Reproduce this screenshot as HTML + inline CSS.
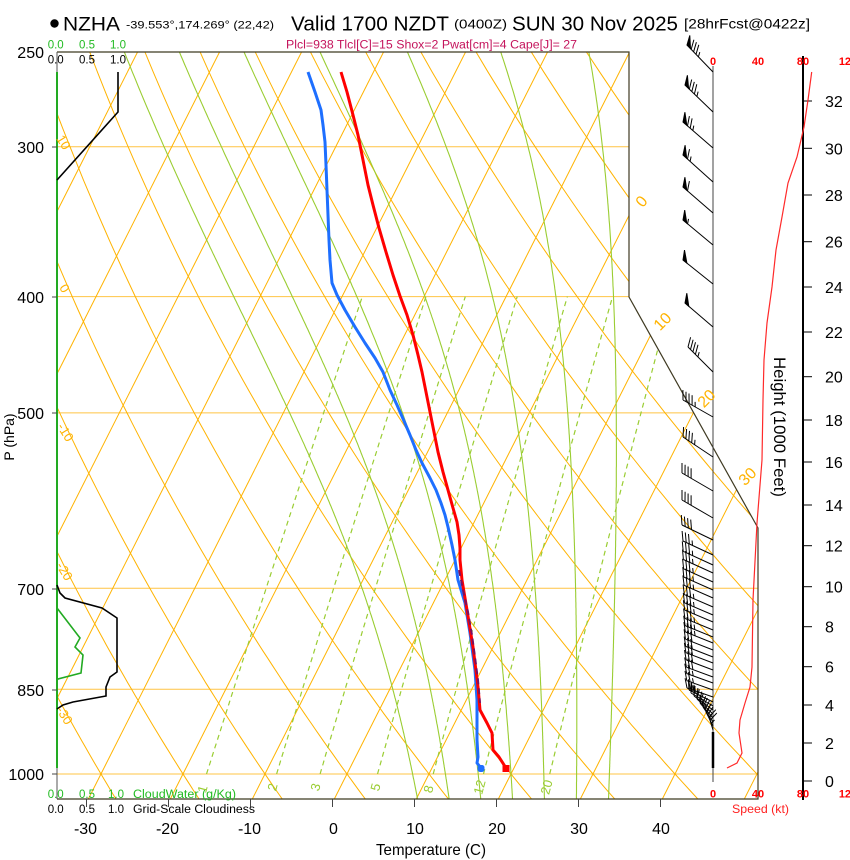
<!DOCTYPE html>
<html><head><meta charset="utf-8"><style>
html,body{margin:0;padding:0;background:#fff;width:850px;height:860px;overflow:hidden}
svg{position:absolute;left:0;top:0}
text{font-family:"Liberation Sans",Arial,sans-serif}
</style></head><body>
<svg id="s" width="850" height="860" viewBox="0 0 850 860" xmlns="http://www.w3.org/2000/svg">
<defs><clipPath id="fc"><polygon points="57,52 629,52 629,297 758,528 758,799 57,799"/></clipPath></defs>
<rect width="850" height="860" fill="#fff"/>
<g id="grid" clip-path="url(#fc)"></g>

<!-- frame -->
<polyline points="57,52 629,52 629,297 758,528 758,799 57,799" fill="none" stroke="#3f3a22" stroke-width="1.2"/>
<line x1="57" y1="52" x2="57" y2="799" stroke="#555" stroke-width="1"/>
<line x1="57" y1="72" x2="57" y2="768" stroke="#22aa22" stroke-width="2"/>

<!-- bottom ticks -->
<g stroke="#444" stroke-width="1">
<line x1="86.5" y1="799" x2="86.5" y2="807"/><line x1="168.5" y1="799" x2="168.5" y2="807"/>
<line x1="250.5" y1="799" x2="250.5" y2="807"/><line x1="332.5" y1="799" x2="332.5" y2="807"/>
<line x1="414.5" y1="799" x2="414.5" y2="807"/><line x1="496.5" y1="799" x2="496.5" y2="807"/>
<line x1="578.5" y1="799" x2="578.5" y2="807"/><line x1="660.5" y1="799" x2="660.5" y2="807"/>
<line x1="52" y1="147" x2="57" y2="147"/><line x1="52" y1="297" x2="57" y2="297"/>
<line x1="52" y1="413" x2="57" y2="413"/><line x1="52" y1="589" x2="57" y2="589"/>
<line x1="52" y1="690" x2="57" y2="690"/><line x1="52" y1="774" x2="57" y2="774"/>
</g>

<!-- cloud lines -->
<polyline points="118,72 118,112 57,180" fill="none" stroke="#000" stroke-width="1.6"/>
<polyline points="57,585 60,593 65,598 102,608 117,618 117,672 110,677 106,687 106,696 73,702 63,705 57,709" fill="none" stroke="#000" stroke-width="1.6"/>
<polyline points="57,608 80,638 75,647 83,655 81,673 58,679 57,680" fill="none" stroke="#22aa22" stroke-width="1.6"/>

<!-- profiles -->
<polyline points="308,72 315,92 321,110 323,125 325,142 326,165 327,190 328,215 329,240 330,260 332,283 337,295 345,310 355,327 365,343 375,358 383,372 390,390 397,405 404,421 410,435 416,450 422,463 430,478 436,490 441,503 445,515 448,527 452,545 455,560 458,580 465,603 470,633 475,670 477,700 477,720 477,740 478,757 477,763 481,768" fill="none" stroke="#1e6fff" stroke-width="3" stroke-linejoin="round"/>
<polyline points="341,72 347,92 353,115 358,135 363,160 368,185 373,205 379,228 386,252 393,275 400,296 407,315 413,335 418,355 422,372 426,392 430,412 434,432 438,452 443,472 448,490 453,508 457,522 459,535 460,548 460,560 462,580 467,610 473,647 478,687 480,710 487,723 492,733 493,750 499,757 506,768" fill="none" stroke="#ff0000" stroke-width="3" stroke-linejoin="round"/>
<polyline points="459,570 463,590 468,612 472,635 475,657 478,680 480,703" fill="none" stroke="#7a1060" stroke-width="2" stroke-dasharray="6,4"/>
<rect x="477.5" y="765" width="7" height="7" rx="2.5" fill="#1e6fff"/>
<rect x="502.5" y="765" width="7" height="7" fill="#ff0000"/>

<!-- right panel axes -->
<line x1="713" y1="66" x2="713" y2="782" stroke="#444" stroke-width="1"/>
<line x1="713" y1="732" x2="713" y2="768" stroke="#000" stroke-width="2.5"/>
<line x1="803" y1="56" x2="803" y2="800" stroke="#000" stroke-width="2"/>
<g stroke="#000" stroke-width="1">
<line x1="803" y1="781" x2="812" y2="781"/><line x1="803" y1="743" x2="812" y2="743"/>
<line x1="803" y1="705" x2="812" y2="705"/><line x1="803" y1="666.7" x2="812" y2="666.7"/>
<line x1="803" y1="626.7" x2="812" y2="626.7"/><line x1="803" y1="586.7" x2="812" y2="586.7"/>
<line x1="803" y1="545.7" x2="812" y2="545.7"/><line x1="803" y1="505" x2="812" y2="505"/>
<line x1="803" y1="462" x2="812" y2="462"/><line x1="803" y1="420" x2="812" y2="420"/>
<line x1="803" y1="376.7" x2="812" y2="376.7"/><line x1="803" y1="332" x2="812" y2="332"/>
<line x1="803" y1="287" x2="812" y2="287"/><line x1="803" y1="241.7" x2="812" y2="241.7"/>
<line x1="803" y1="195" x2="812" y2="195"/><line x1="803" y1="148.3" x2="812" y2="148.3"/>
<line x1="803" y1="101" x2="812" y2="101"/>
</g>
<polyline points="811.7,72 808,100 804,127 797,157 788,183 782,217 776,250 772,287 767,323 764,360 763,400 762,460 757,523 753,600 752,667 750,687 745,703 740,720 739,733 742,753 737,763 727,768" fill="none" stroke="#ff2a2a" stroke-width="1.2"/>
<g id="barbs" stroke="#000" stroke-width="1" fill="#000"></g>

<!-- Title -->
<circle cx="54.5" cy="23.5" r="4.2" fill="#000"/>
<text x="63" y="30.5" font-size="19.5" textLength="57" lengthAdjust="spacingAndGlyphs">NZHA</text>
<text x="126" y="28.5" font-size="11" textLength="148" lengthAdjust="spacingAndGlyphs">-39.553°,174.269° (22,42)</text>
<text x="291" y="30.7" font-size="20" textLength="158" lengthAdjust="spacingAndGlyphs">Valid 1700 NZDT</text>
<text x="454" y="28.5" font-size="12.5" textLength="53" lengthAdjust="spacingAndGlyphs">(0400Z)</text>
<text x="512" y="30.7" font-size="20" textLength="166" lengthAdjust="spacingAndGlyphs">SUN 30 Nov 2025</text>
<text x="684" y="28.5" font-size="14" textLength="126" lengthAdjust="spacingAndGlyphs">[28hrFcst@0422z]</text>
<text x="286" y="48.3" font-size="11.5" fill="#c4145c" textLength="291" lengthAdjust="spacingAndGlyphs">Plcl=938 Tlcl[C]=15 Shox=2 Pwat[cm]=4 Cape[J]= 27</text>

<!-- cloud scale labels -->
<g font-size="11.5" fill="#22bb22">
<text x="47.7" y="48.3">0.0</text><text x="79" y="48.3">0.5</text><text x="110" y="48.3">1.0</text>
<text x="47.7" y="798">0.0</text><text x="79" y="798">0.5</text><text x="108" y="798">1.0</text>
<text x="133" y="798" textLength="103" lengthAdjust="spacingAndGlyphs">CloudWater (g/Kg)</text>
</g>
<g font-size="11.5" fill="#000">
<text x="47.7" y="63.3">0.0</text><text x="79" y="63.3">0.5</text><text x="110" y="63.3">1.0</text>
<text x="47.7" y="813">0.0</text><text x="79" y="813">0.5</text><text x="108" y="813">1.0</text>
<text x="133" y="813" textLength="122" lengthAdjust="spacingAndGlyphs">Grid-Scale Cloudiness</text>
</g>

<!-- pressure labels -->
<g font-size="16" text-anchor="end" fill="#000">
<text x="44" y="58">250</text><text x="44" y="153">300</text><text x="44" y="303">400</text>
<text x="44" y="419">500</text><text x="44" y="595">700</text><text x="44" y="696">850</text>
<text x="44" y="780">1000</text>
</g>
<text transform="translate(14,437) rotate(-90)" font-size="14" text-anchor="middle">P (hPa)</text>

<!-- temperature labels -->
<g font-size="16" text-anchor="middle" fill="#000">
<text x="85.5" y="834">-30</text><text x="167.5" y="834">-20</text><text x="249.5" y="834">-10</text>
<text x="333.5" y="834">0</text><text x="415" y="834">10</text><text x="497" y="834">20</text>
<text x="579" y="834">30</text><text x="661" y="834">40</text>
</g>
<text x="376" y="855" font-size="16" textLength="110" lengthAdjust="spacingAndGlyphs">Temperature (C)</text>

<!-- speed labels -->
<g font-size="11" font-weight="bold" fill="#ff0000" text-anchor="middle">
<text x="713" y="65">0</text><text x="758" y="65">40</text><text x="803" y="65">80</text><text x="848" y="65">120</text>
<text x="713" y="797.5">0</text><text x="758" y="797.5">40</text><text x="803" y="797.5">80</text><text x="848" y="797.5">120</text>
</g>
<text x="732" y="813" font-size="12" fill="#ff2020" textLength="57" lengthAdjust="spacingAndGlyphs">Speed (kt)</text>

<!-- height labels -->
<g font-size="16" fill="#000">
<text x="825" y="787">0</text><text x="825" y="749">2</text><text x="825" y="711">4</text>
<text x="825" y="672.7">6</text><text x="825" y="632.7">8</text><text x="825" y="592.7">10</text>
<text x="825" y="551.7">12</text><text x="825" y="511">14</text><text x="825" y="468">16</text>
<text x="825" y="426">18</text><text x="825" y="382.7">20</text><text x="825" y="338">22</text>
<text x="825" y="293">24</text><text x="825" y="247.7">26</text><text x="825" y="201">28</text>
<text x="825" y="154.3">30</text><text x="825" y="107">32</text>
</g>
<text transform="translate(774,427) rotate(90)" font-size="16.5" text-anchor="middle" textLength="140" lengthAdjust="spacingAndGlyphs">Height (1000 Feet)</text>

<!-- isotherm labels (right) -->
<g font-size="16" fill="#ffb300" text-anchor="middle">
<text transform="translate(641,201) rotate(-50)" y="6">0</text>
<text transform="translate(662,321) rotate(-45)" y="6">10</text>
<text transform="translate(706,398) rotate(-45)" y="6">20</text>
<text transform="translate(747,476) rotate(-45)" y="6">30</text>
</g>
<!-- dry adiabat labels (left) -->
<g font-size="13" fill="#ffb300" text-anchor="middle">
<text transform="translate(64,142) rotate(58)" y="5">10</text>
<text transform="translate(65,288) rotate(58)" y="5">0</text>
<text transform="translate(66,432) rotate(58)" y="5">-10</text>
<text transform="translate(65,571) rotate(58)" y="5">-20</text>
<text transform="translate(65,715) rotate(58)" y="5">-30</text>
</g>
<!-- mixing ratio labels -->
<g font-size="13" fill="#9acd32" text-anchor="middle">
<text transform="translate(202,789) rotate(-75)" y="5">1</text>
<text transform="translate(272,787) rotate(-75)" y="5">2</text>
<text transform="translate(315,787) rotate(-75)" y="5">3</text>
<text transform="translate(375,787) rotate(-75)" y="5">5</text>
<text transform="translate(428,789) rotate(-75)" y="5">8</text>
<text transform="translate(479,787) rotate(-75)" y="5">12</text>
<text transform="translate(546,787) rotate(-75)" y="5">20</text>
</g>
</svg>
<script>
(function(){
var NS="http://www.w3.org/2000/svg";
function yp(p){return 774-521*Math.log(1000/p);}
function xT(T,y){return 347+8.2*T+0.505*(774-y);}
function mk(par,tag,at){var e=document.createElementNS(NS,tag);for(var k in at)e.setAttribute(k,at[k]);par.appendChild(e);return e;}
function pl(par,pts,st,w,dash){var a={points:pts.map(function(q){return q[0].toFixed(1)+','+q[1].toFixed(1);}).join(' '),fill:'none',stroke:st,'stroke-width':w};if(dash)a['stroke-dasharray']=dash;return mk(par,'polyline',a);}
var g=document.getElementById('grid');
[300,400,500,700,850,1000].forEach(function(p){var y=yp(p);pl(g,[[57,y],[800,y]],'#ffc444',1);});
for(var T=-90;T<=60;T+=10)pl(g,[[xT(T,805),805],[xT(T,45),45]],'#ffb300',1);
for(var th=-50;th<=160;th+=10){var pts=[];for(var p=1060;p>=240;p-=10){var t=(th+273.15)*Math.pow(p/1000,0.2857)-273.15;var y=yp(p);pts.push([xT(t,y),y]);}pl(g,pts,'#ffb300',1);}
function es(Tc){return 6.112*Math.exp(17.67*Tc/(Tc+243.5));}
function dTdp(T,p){var e=es(T-273.15);var rs=0.622*e/(p-e);var num=287.04*T+2.501e6*rs;var den=1005.7+2.501e6*2.501e6*rs*0.622/(287.04*T*T);return num/(p*den);}
[8,12,16,20,24,28,32].forEach(function(T0){
 var T=T0+273.15,p=1000,h=2,k1,k2;
 while(p<1060){k1=dTdp(T,p);k2=dTdp(T+h*k1,p+h);T+=h*(k1+k2)/2;p+=h;}
 var pts=[];h=-2;
 while(p>=244){var y=yp(p);pts.push([xT(T-273.15,y),y]);k1=dTdp(T,p);k2=dTdp(T+h*k1,p+h);T+=h*(k1+k2)/2;p+=h;}
 pl(g,pts,'#9acd32',1.1);
});
[1,2,3,5,8,12,20].forEach(function(w){var pts=[];for(var p=1000;p>=399;p-=10){var e=w*p/(622+w);var l=Math.log(e/6.112);var td=243.5*l/(17.67-l);var y=yp(p);pts.push([xT(td,y),y]);}pl(g,pts,'#9acd32',1.2,'5,4');});
// barbs
var bg=document.getElementById('barbs');
function barb(y,dx,dy,fl,fu,ha){
 var bx=713,tx=bx+dx,ty=y+dy,L=Math.sqrt(dx*dx+dy*dy),ux=dx/L,uy=dy/L;
 mk(bg,'line',{x1:bx,y1:y,x2:tx.toFixed(1),y2:ty.toFixed(1)});
 var fx=ux*0.5-uy*0.866,fy=ux*0.866+uy*0.5,pos=0,i;
 for(i=0;i<fl;i++){var ax=tx-ux*pos,ay=ty-uy*pos,cx=tx-ux*(pos+5),cy=ty-uy*(pos+5);
  mk(bg,'polygon',{points:ax.toFixed(1)+','+ay.toFixed(1)+' '+cx.toFixed(1)+','+cy.toFixed(1)+' '+(ax+fx*10).toFixed(1)+','+(ay+fy*10).toFixed(1)});pos+=6;}
 for(i=0;i<fu;i++){var px=tx-ux*pos,py=ty-uy*pos;mk(bg,'line',{x1:px.toFixed(1),y1:py.toFixed(1),x2:(px+fx*10).toFixed(1),y2:(py+fy*10).toFixed(1)});pos+=3.5;}
 if(ha){if(pos==0)pos=3.5;var qx=tx-ux*pos,qy=ty-uy*pos;mk(bg,'line',{x1:qx.toFixed(1),y1:qy.toFixed(1),x2:(qx+fx*5).toFixed(1),y2:(qy+fy*5).toFixed(1)});}
}
var B=[[72,-26,-27,1,3,1],[112,-28,-27,1,3,1],[148,-30,-26,1,2,1],[182,-30,-27,1,1,1],[213,-30,-26,1,1,0],[245,-30,-25,1,0,1],[284,-30,-24,1,0,0],[327,-28,-24,1,0,0],[372,-25,-25,0,4,1],[417,-30,-17,0,4,1],[457,-30,-20,0,4,1],[491,-31,-18,0,4,0],[518,-31,-18,0,4,0],[540,-31,-15,0,4,0]];
B.forEach(function(b){barb.apply(null,b);});
var D=[555,565,573,582,590,598,607,615,622,630,637,643,650,657,663,670,677,683,690,697];
D.forEach(function(y,i){var f=i/(D.length-1);barb(y,-30+f*4,-14+f*5,0,y<650?3:(y<680?3:2),y<650?1:(y<680?0:1));});
[[702,-24,-12],[706,-22,-13],[710,-19,-14],[714,-16,-15],[718,-13,-15],[722,-10,-15],[726,-7,-14],[730,-4,-13]].forEach(function(b){barb(b[0],b[1],b[2],0,2,1);});
})();
</script>
</body></html>
